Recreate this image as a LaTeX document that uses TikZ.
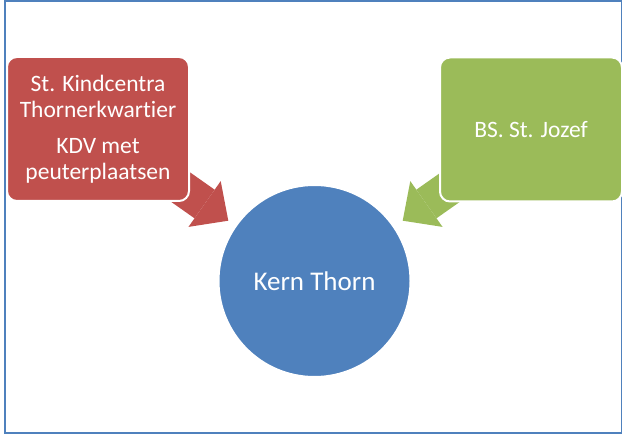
\documentclass[tikz,border=0pt]{standalone}
\usepackage{fontspec}
\setmainfont{Carlito}[Ligatures={NoCommon}]
\usetikzlibrary{arrows.meta}
\definecolor{ored}{HTML}{C0504D}
\definecolor{ogreen}{HTML}{9BBB59}
\definecolor{oblue}{HTML}{4F81BD}
\begin{document}
\begin{tikzpicture}[x=1pt,y=-1pt,
  boxnode/.style={rectangle, rounded corners=10pt, draw=white, line width=2pt,
    minimum width=182pt, minimum height=144pt, inner sep=0pt, text=white,
    font=\fontsize{23.5}{25.5}\selectfont, align=center},
  blockarrow/.style={line width=35pt, -{Triangle[length=29pt,width=56pt,line width=0pt]}},
  framebox/.style={draw=oblue, line width=1.5pt}]
\useasboundingbox (0,0) rectangle (623,438);
\draw[framebox] (5,1) rectangle (621.5,433);
% arrows (behind the boxes)
\coordinate (rs) at (167.8,178.1);
\coordinate (rt) at (228.3,220.7);
\coordinate (gs) at (463.2,178.1);
\coordinate (gt) at (402.7,220.7);
\draw[blockarrow, ored] (rs) -- (rt);
\draw[blockarrow, ogreen] (gs) -- (gt);
% boxes
\node[boxnode, fill=ored] (kdv) at (98,129) {St. Kindcentra\\Thornerkwartier\\[11pt]KDV met\\peuterplaatsen};
\node[boxnode, fill=ogreen] (bs) at (531,129.5) {BS. St. Jozef};
% circle
\node[circle, fill=oblue, draw=white, line width=2pt, minimum size=192pt, inner sep=0pt,
  text=white, font=\fontsize{27}{32}\selectfont] (kern) at (314.5,281) {Kern Thorn};
\end{tikzpicture}
\end{document}
